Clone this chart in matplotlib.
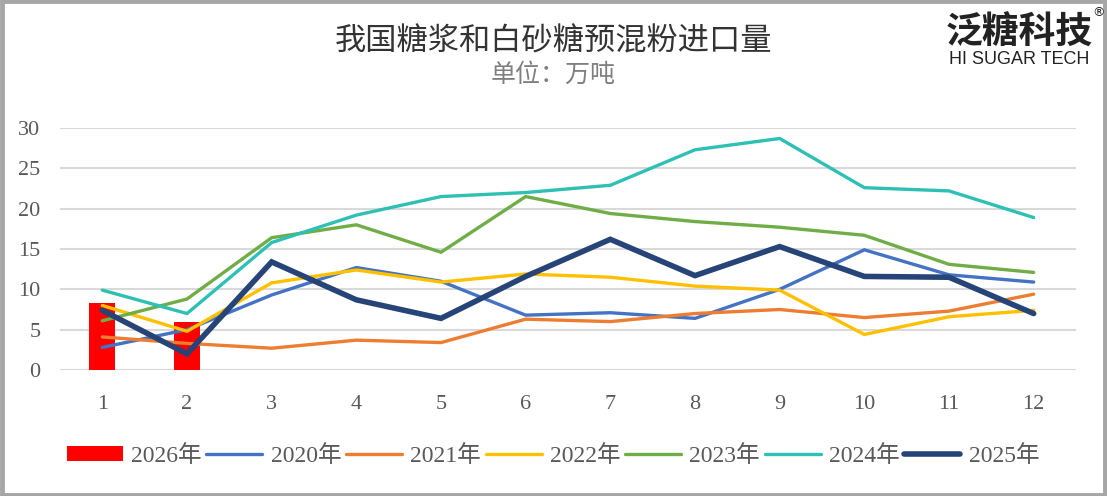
import matplotlib
matplotlib.use("Agg")
import matplotlib.pyplot as plt
from matplotlib.patches import Rectangle

plt.rcParams['font.family'] = ['Liberation Serif', 'Noto Sans CJK SC', 'DejaVu Sans']

months = [1, 2, 3, 4, 5, 6, 7, 8, 9, 10, 11, 12]
month_labels = [str(m) for m in months]

bar_months = [1, 2]
y2026 = [8.3, 5.9]

y2020 = [2.8, 5.0, 9.3, 12.7, 11.0, 6.8, 7.1, 6.4, 10.0, 14.9, 11.8, 10.9]
y2021 = [4.1, 3.3, 2.7, 3.7, 3.4, 6.3, 6.0, 7.0, 7.5, 6.5, 7.3, 9.4]
y2022 = [8.0, 4.8, 10.8, 12.4, 10.9, 11.9, 11.5, 10.4, 9.9, 4.4, 6.6, 7.4]
y2023 = [6.1, 8.8, 16.4, 18.0, 14.6, 21.5, 19.4, 18.4, 17.7, 16.7, 13.1, 12.1]
y2024 = [9.9, 7.0, 15.8, 19.2, 21.5, 22.0, 22.9, 27.3, 28.7, 22.6, 22.2, 18.9]
y2025 = [7.4, 2.0, 13.4, 8.7, 6.4, 11.6, 16.2, 11.7, 15.3, 11.6, 11.5, 7.0]

series = [
    ("2020年", y2020, "#4472C4", 2.4),
    ("2021年", y2021, "#ED7D31", 2.4),
    ("2022年", y2022, "#FFC000", 2.4),
    ("2023年", y2023, "#70AD47", 2.4),
    ("2024年", y2024, "#2EC0B4", 2.4),
    ("2025年", y2025, "#264478", 4.0),
]

W, H = 1107, 496
fig = plt.figure(figsize=(W / 100, H / 100), dpi=100)
ax = fig.add_axes([60 / W, 1 - 370 / H, (1076 - 60) / W, (370 - 128) / H])

handles = []
b = ax.bar(bar_months, y2026, width=0.31, color="#FF0000", label="2026年", zorder=2)
handles.append(b)
for name, vals, col, lw in series:
    ln, = ax.plot(months, vals, color=col, lw=lw, label=name, zorder=3,
                  solid_capstyle='round', solid_joinstyle='miter')
    handles.append(ln)

ax.set_xlim(0.5, 12.5)
ax.set_ylim(0, 30)
ax.set_yticks([0, 5, 10, 15, 20, 25, 30])
ax.set_xticks(months)
ax.set_xticklabels(month_labels)
ax.grid(axis='y', color="#D9D9D9", lw=1.5, zorder=0)
ax.set_axisbelow(True)
for s in ax.spines.values():
    s.set_visible(False)
ax.tick_params(axis='both', length=0, colors="#595959", labelsize=16)
ax.tick_params(axis='x', pad=18)
ax.tick_params(axis='y', pad=14)

labels = [h.get_label() for h in handles]
leg = fig.legend(handles, labels, loc='center', bbox_to_anchor=(553 / W, 1 - 456 / H), ncol=7,
                 frameon=False, fontsize=17, handlelength=2.37, handleheight=0.64,
                 handletextpad=0.35, columnspacing=0.2, labelcolor="#595959")

fig.text(553 / W, 1 - 41 / H, "我国糖浆和白砂糖预混粉进口量", ha='center', va='center',
         fontsize=22.5, color="#333333", family=['Noto Sans CJK SC'], fontweight='light')
fig.text(553 / W, 1 - 75 / H, "单位：万吨", ha='center', va='center',
         fontsize=18, color="#7F7F7F", family=['Noto Sans CJK SC'], fontweight='light')

fig.text(1019 / W, 1 - 33 / H, "泛糖科技", ha='center', va='center',
         fontsize=26.5, color="#222222", family=['Noto Sans CJK SC'], fontweight='bold')
fig.text(1019 / W, 1 - 60 / H, "HI SUGAR TECH", ha='center', va='center',
         fontsize=13, color="#222222", family=['Liberation Sans'])
fig.text(1098 / W, 1 - 13 / H, "®", ha='center', va='center',
         fontsize=9, color="#222222", family=['DejaVu Sans'])

fig.add_artist(Rectangle((0.0015, 0.003), 0.997, 0.994, transform=fig.transFigure,
                         fill=False, edgecolor="#A6A6A6", lw=3.5))

fig.savefig("out.png", dpi=100, facecolor='white')
